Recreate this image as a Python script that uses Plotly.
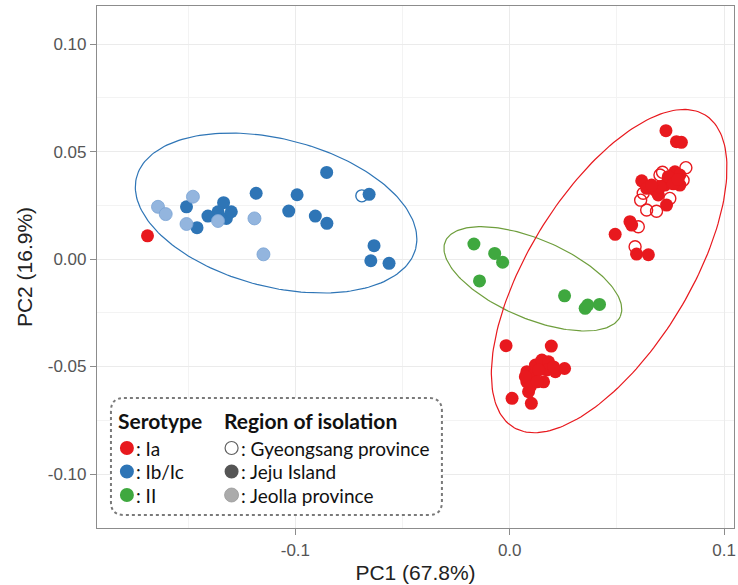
import numpy as np
import plotly.graph_objects as go

# ---------------- data (PC1, PC2) ----------------
ia_jeju_x = [0.0729, 0.0778, 0.0801, 0.0616, 0.0639, 0.0678, 0.0693, 0.0724, 0.0755, 0.0771,
             0.0794, 0.0794, 0.0740, 0.0701, 0.0662, 0.0732, 0.0561, 0.0569, 0.0492, 0.0592,
             0.0647, 0.0763, 0.0785,
             -0.0017, 0.0194, 0.0011, 0.0101, 0.0080, 0.0120, 0.0150, 0.0181, 0.0174, 0.0213,
             0.0256, 0.0158, 0.0080, 0.0088, 0.0112, 0.0135, 0.0073, 0.0096, 0.0128, 0.0205,
             -0.1690]
ia_jeju_y = [0.0597, 0.0546, 0.0543, 0.0364, 0.0329, 0.0321, 0.0298, 0.0344, 0.0367, 0.0406,
             0.0391, 0.0344, 0.0383, 0.0336, 0.0344, 0.0251, 0.0174, 0.0158, 0.0115, 0.0023,
             0.0020, 0.0350, 0.0370,
             -0.0403, -0.0405, -0.0648, -0.0671, -0.0524, -0.0493, -0.0470, -0.0478, -0.0516, -0.0524,
             -0.0509, -0.0571, -0.0571, -0.0617, -0.0540, -0.0516, -0.0547, -0.0594, -0.0571, -0.0502,
             0.0108]
ia_gyeong_x = [0.0822, 0.0713, 0.0623, 0.0611, 0.0639, 0.0685, 0.0600, 0.0585, 0.0747, 0.0809, 0.0701]
ia_gyeong_y = [0.0425, 0.0404, 0.0306, 0.0274, 0.0228, 0.0222, 0.0150, 0.0057, 0.0282, 0.0367, 0.0391]

ib_jeju_x = [-0.1508, -0.1459, -0.1408, -0.1335, -0.1361, -0.1322, -0.1299, -0.1183, -0.1031,
             -0.0992, -0.0907, -0.0853, -0.0854, -0.0656, -0.0633, -0.0648, -0.0563]
ib_jeju_y = [0.0243, 0.0146, 0.0200, 0.0262, 0.0220, 0.0189, 0.0220, 0.0306, 0.0223,
             0.0299, 0.0200, 0.0166, 0.0403, 0.0301, 0.0062, -0.0008, -0.0020]
ib_gyeong_x = [-0.0690]
ib_gyeong_y = [0.0294]
ib_jeolla_x = [-0.1641, -0.1605, -0.1478, -0.1508, -0.1361, -0.1191, -0.1149]
ib_jeolla_y = [0.0243, 0.0209, 0.0290, 0.0163, 0.0177, 0.0189, 0.0022]

ii_jeju_x = [-0.0167, -0.0070, -0.0033, -0.0141, 0.0256, 0.0352, 0.0364, 0.0419]
ii_jeju_y = [0.0070, 0.0026, -0.0015, -0.0102, -0.0171, -0.0229, -0.0214, -0.0211]

# ellipses: centre x, centre y, semi-major, semi-minor, angle (deg)
ell_ia = [0.0464, -0.0056, 0.0853, 0.0374, 58.3]
ell_ib = [-0.1090, 0.0214, 0.0672, 0.0344, -14.25]
ell_ii = [0.0108, -0.0092, 0.0444, 0.0184, -23.05]

x_ticks = [-0.1, 0.0, 0.1]
x_ticklabels = ["-0.1", "0.0", "0.1"]
y_ticks = [-0.10, -0.05, 0.00, 0.05, 0.10]
y_ticklabels = ["-0.10", "-0.05", "0.00", "0.05", "0.10"]

RED = "#E8191E"
BLUE = "#2E75B6"
GREEN = "#3FA83F"
HATCH_BLUE = "#93B5DE"


def ellipse(p, n=200):
    cx, cy, a, b, ang = p
    t = np.linspace(0, 2 * np.pi, n)
    th = np.deg2rad(ang)
    xs = cx + a * np.cos(t) * np.cos(th) - b * np.sin(t) * np.sin(th)
    ys = cy + a * np.cos(t) * np.sin(th) + b * np.sin(t) * np.cos(th)
    return xs, ys


fig = go.Figure()
MS = 13

for p, col in [(ell_ib, BLUE), (ell_ii, "#6E9E3C"), (ell_ia, RED)]:
    ex, ey = ellipse(p)
    fig.add_trace(go.Scatter(x=ex, y=ey, mode="lines", line=dict(color=col, width=1.2),
                             hoverinfo="skip", showlegend=False))

fig.add_trace(go.Scatter(x=ia_gyeong_x, y=ia_gyeong_y, mode="markers",
                         marker=dict(symbol="circle-open", size=MS - 1, color=RED, line=dict(width=1.4)),
                         showlegend=False))
fig.add_trace(go.Scatter(x=ib_gyeong_x, y=ib_gyeong_y, mode="markers",
                         marker=dict(symbol="circle-open", size=MS - 1, color=BLUE, line=dict(width=1.4)),
                         showlegend=False))
fig.add_trace(go.Scatter(x=ia_jeju_x, y=ia_jeju_y, mode="markers",
                         marker=dict(size=MS, color=RED, line=dict(width=0)), showlegend=False))
fig.add_trace(go.Scatter(x=ib_jeju_x, y=ib_jeju_y, mode="markers",
                         marker=dict(size=MS, color=BLUE, line=dict(width=0)), showlegend=False))
fig.add_trace(go.Scatter(x=ib_jeolla_x, y=ib_jeolla_y, mode="markers",
                         marker=dict(size=MS, color=HATCH_BLUE, line=dict(width=0.8, color="#7AA3D4")),
                         showlegend=False))
fig.add_trace(go.Scatter(x=ii_jeju_x, y=ii_jeju_y, mode="markers",
                         marker=dict(size=MS, color=GREEN, line=dict(width=0)), showlegend=False))

# ---------------- layout ----------------
W, H = 738, 585
ML, MR, MT, MB = 97, 2, 6, 57
PW, PH = W - ML - MR, H - MT - MB


def px2paper(px, py):
    return (px - ML) / PW, (H - MB - py) / PH


AF = "Liberation Sans"
axis_common = dict(showline=True, linecolor="#8C8C8C", linewidth=1.2, mirror=True,
                   ticks="outside", ticklen=6, tickcolor="#8C8C8C", tickwidth=1.1,
                   showgrid=True, gridcolor="#EBEBEB", gridwidth=1.1, zeroline=False,
                   tickfont=dict(family=AF, size=17, color="#555555"))

fig.update_layout(
    width=W, height=H, margin=dict(l=ML, r=MR, t=MT, b=MB),
    plot_bgcolor="white", paper_bgcolor="white",
    xaxis=dict(range=[-0.19256, 0.10465], tickvals=x_ticks, ticktext=x_ticklabels,
               minor=dict(tickvals=[-0.15, -0.05, 0.05], showgrid=True, gridcolor="#F3F3F3", gridwidth=0.6, ticks=""),
               title=dict(text="PC1 (67.8%)", font=dict(family=AF, size=21, color="#222222"), standoff=6),
               **axis_common),
    yaxis=dict(range=[-0.1251, 0.1177], tickvals=y_ticks, ticktext=y_ticklabels,
               minor=dict(tickvals=[-0.075, -0.025, 0.025, 0.075], showgrid=True, gridcolor="#F3F3F3", gridwidth=0.6, ticks=""),
               title=dict(text="PC2 (16.9%)", font=dict(family=AF, size=21, color="#222222"), standoff=9),
               **axis_common),
)

# legend box (rounded, dotted)
bx0, by0, bx1, by1, r = 111, 398, 443, 515, 13
def P(x, y):
    u, v = px2paper(x, y)
    return f"{u:.5f},{v:.5f}"
path = (f"M {P(bx0 + r, by0)} L {P(bx1 - r, by0)} Q {P(bx1, by0)} {P(bx1, by0 + r)} "
        f"L {P(bx1, by1 - r)} Q {P(bx1, by1)} {P(bx1 - r, by1)} "
        f"L {P(bx0 + r, by1)} Q {P(bx0, by1)} {P(bx0, by1 - r)} "
        f"L {P(bx0, by0 + r)} Q {P(bx0, by0)} {P(bx0 + r, by0)} Z")
fig.add_shape(type="path", path=path, xref="paper", yref="paper",
              line=dict(color="#7A7A7A", width=2, dash="dot"), fillcolor="white", layer="above")

LF = "Lato"
def label(x, y, text, bold=False, size=19):
    u, v = px2paper(x, y)
    fig.add_annotation(x=u, y=v, xref="paper", yref="paper", xanchor="left", yanchor="middle",
                       text=(f"<b>{text}</b>" if bold else text), showarrow=False,
                       font=dict(family=LF, size=size, color="#111111"))

def dot(x, y, fill, line_col=None, lw=0, d=14):
    u, v = px2paper(x, y)
    fig.add_shape(type="circle", xref="paper", yref="paper", xsizemode="pixel", ysizemode="pixel",
                  xanchor=u, yanchor=v, x0=-d / 2, x1=d / 2, y0=-d / 2, y1=d / 2,
                  fillcolor=fill, line=dict(color=line_col or fill, width=lw), layer="above")

label(116, 420, "Serotype", bold=True, size=21)
label(222, 420, "Region of isolation", bold=True, size=21)
rows = [448, 471.5, 495]
for yy, col, txt in zip(rows, [RED, BLUE, GREEN], [": Ia", ": Ib/Ic", ": II"]):
    dot(127, yy, col)
    label(134, yy, txt)
dot(232, rows[0], "white", "#606060", 1.2, 13)
label(239, rows[0], ": Gyeongsang province")
dot(232, rows[1], "#555555")
label(239, rows[1], ": Jeju Island")
dot(232, rows[2], "#ABABAB", "#999999", 0.8)
label(239, rows[2], ": Jeolla province")

fig.write_html("out.html")
